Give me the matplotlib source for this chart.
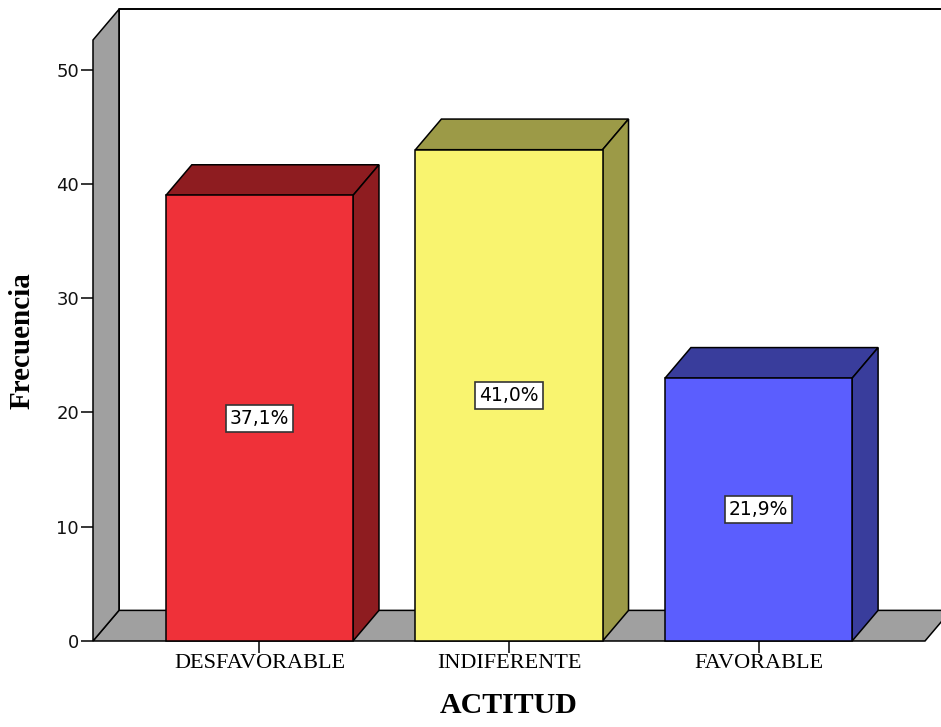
import numpy as np
import matplotlib
matplotlib.use('Agg')
import matplotlib.pyplot as plt
from matplotlib.patches import Polygon, Rectangle

categories = ['DESFAVORABLE', 'INDIFERENTE', 'FAVORABLE']
counts = [39, 43, 23]
yticks = [0, 10, 20, 30, 40, 50]

front_colors = ['#EF3139', '#F9F46F', '#5B5EFE']
side_colors = ['#8E1C20', '#9C9A47', '#393D9C']
wall_color = '#A0A0A0'

total = sum(counts)
pct_labels = [f'{100 * c / total:.1f}%'.replace('.', ',') for c in counts]

# depth offset of the 3D look, in data units
DX = 0.104
DY = 2.68
BAR_W = 0.75
X0, X1 = -0.667, 2.667
YTOP = 52.6

fig = plt.figure(figsize=(9.41, 7.27), dpi=100)
ax = fig.add_axes([93 / 941, 86 / 727, 832 / 941, 601 / 727])
ax.set_xlim(X0, X1)
ax.set_ylim(0, YTOP)
for s in ax.spines.values():
    s.set_visible(False)
ax.patch.set_visible(False)

edge = dict(edgecolor='black', linewidth=1.1, clip_on=False, joinstyle='miter')

# back wall (only top and left edges are visible)
ax.plot([X0 + DX, X0 + DX, X1 + 1], [DY, YTOP + DY, YTOP + DY],
        color='black', lw=1.4, clip_on=False, zorder=1)
# floor
ax.add_patch(Polygon([(X0, 0), (X1, 0), (X1 + DX, DY), (X0 + DX, DY)],
                     facecolor=wall_color, zorder=2, **edge))
# left wall
ax.add_patch(Polygon([(X0, 0), (X0 + DX, DY), (X0 + DX, YTOP + DY), (X0, YTOP)],
                     facecolor=wall_color, zorder=2, **edge))

x = np.arange(len(categories))
for xi, v, fc, sc, lab in zip(x, counts, front_colors, side_colors, pct_labels):
    xl, xr = xi - BAR_W / 2, xi + BAR_W / 2
    ax.add_patch(Polygon([(xl, v), (xr, v), (xr + DX, v + DY), (xl + DX, v + DY)],
                         facecolor=sc, zorder=3, **edge))
    ax.add_patch(Polygon([(xr, 0), (xr + DX, DY), (xr + DX, v + DY), (xr, v)],
                         facecolor=sc, zorder=3, **edge))
    ax.add_patch(Rectangle((xl, 0), BAR_W, v, facecolor=fc, zorder=4, **edge))
    ax.text(xi, v / 2, lab, ha='center', va='center', fontsize=13.5,
            family='DejaVu Sans', zorder=5,
            bbox=dict(boxstyle='square,pad=0.22', facecolor='white',
                      edgecolor='#333333', linewidth=1.2))

ax.set_yticks(yticks)
ax.set_yticklabels([str(t) for t in yticks], fontsize=13, family='DejaVu Sans',
                   color='#111111')
ax.set_xticks(x)
ax.set_xticklabels(categories, fontsize=16, family='Liberation Serif')
ax.tick_params(axis='y', length=9, width=1.1, pad=1, direction='out')
ax.tick_params(axis='x', length=8.5, width=1.1, pad=0.5, direction='out')

ax.set_xlabel('ACTITUD', fontsize=21.5, family='Liberation Serif', fontweight='bold')
ax.xaxis.set_label_coords(0.5, -0.085)
ax.xaxis.label.set_va('top')
ax.set_ylabel('Frecuencia', fontsize=21, family='Liberation Serif', fontweight='bold')
ax.yaxis.set_label_coords(-0.0853, 0.5)
ax.yaxis.label.set_va('center')

fig.savefig('out.png', dpi=100)
